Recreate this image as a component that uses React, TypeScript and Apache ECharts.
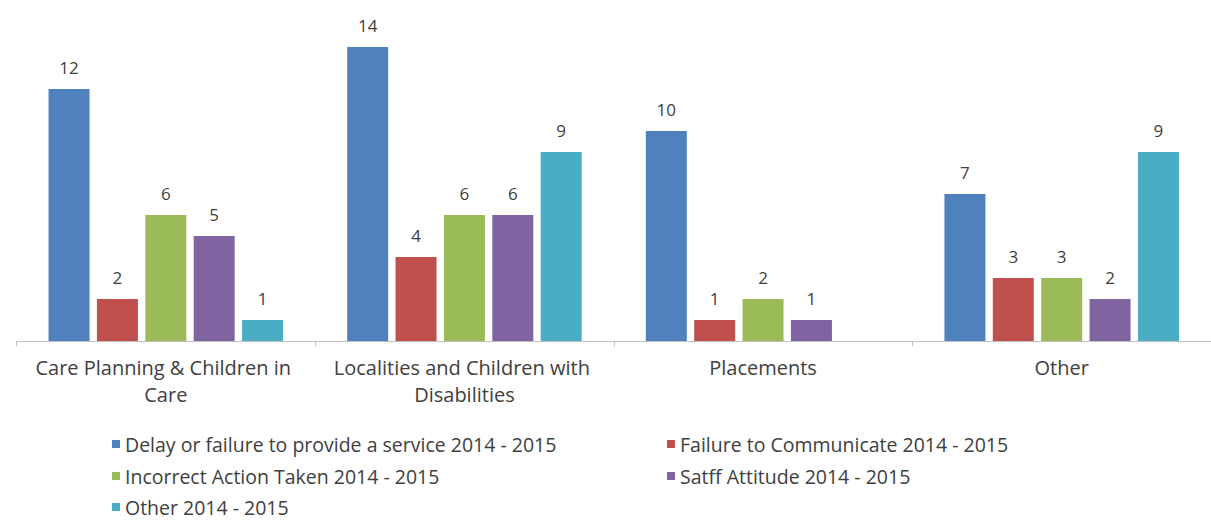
import React, { useEffect, useRef } from "react";
import * as echarts from "echarts";

const categories = [
  "Care Planning & Children in Care",
  "Localities and Children with Disabilities",
  "Placements",
  "Other",
];
const seriesNames = [
  "Delay or failure to provide a service 2014 - 2015",
  "Failure to Communicate 2014 - 2015",
  "Incorrect Action Taken 2014 - 2015",
  "Satff Attitude 2014 - 2015",
  "Other 2014 - 2015",
];
const delayValues = [12, 14, 10, 7];
const communicateValues = [2, 4, 1, 3];
const incorrectValues = [6, 6, 2, 3];
const attitudeValues = [5, 6, 1, 2];
const otherValues: (number | null)[] = [1, 9, null, 9];
const colors = ["#4F81BD", "#C0504D", "#9BBB59", "#8064A2", "#4BACC6"];

const FONT = "Open Sans";
const TEXT = "#404040";

export default function App() {
  const ref = useRef<HTMLDivElement>(null);
  useEffect(() => {
    if (!ref.current) return;
    const chart = echarts.init(ref.current, undefined, { renderer: "svg" });
    const allValues = [delayValues, communicateValues, incorrectValues, attitudeValues, otherValues];
    const legendPos = [
      { left: 107, top: 429 },
      { left: 662, top: 429 },
      { left: 107, top: 461 },
      { left: 662, top: 461 },
      { left: 107, top: 492 },
    ];
    chart.setOption({
      animation: false,
      backgroundColor: "#ffffff",
      grid: { left: 16.5, right: -5.5, top: 5, bottom: 188, containLabel: false },
      legend: seriesNames.map((n, i) => ({
        data: [n],
        left: legendPos[i].left,
        top: legendPos[i].top,
        icon: "rect",
        itemWidth: 8,
        itemHeight: 8,
        itemGap: 6,
        textStyle: { fontFamily: FONT, fontSize: 19.5, color: TEXT },
      })),
      xAxis: {
        type: "category",
        data: categories,
        axisLine: { lineStyle: { color: "#bfbfbf", width: 1 } },
        axisTick: { show: true, length: 5, lineStyle: { color: "#bfbfbf" } },
        axisLabel: {
          fontFamily: FONT,
          fontSize: 20,
          color: TEXT,
          margin: 13,
          lineHeight: 27,
          width: 285,
          overflow: "break",
          interval: 0,
        },
      },
      yAxis: {
        type: "value",
        min: 0,
        max: 16,
        show: false,
        splitLine: { show: false },
      },
      series: seriesNames.map((n, i) => ({
        name: n,
        type: "bar",
        data: allValues[i],
        barWidth: 41,
        barGap: "18%",
        itemStyle: { color: colors[i] },
        label: {
          show: true,
          position: "top",
          distance: 13,
          fontFamily: FONT,
          fontSize: 17,
          color: TEXT,
        },
      })),
    });
    return () => chart.dispose();
  }, []);
  return (
    <div
      ref={ref}
      style={{ position: "fixed", left: 0, top: 0, width: 1211, height: 529 }}
    />
  );
}
